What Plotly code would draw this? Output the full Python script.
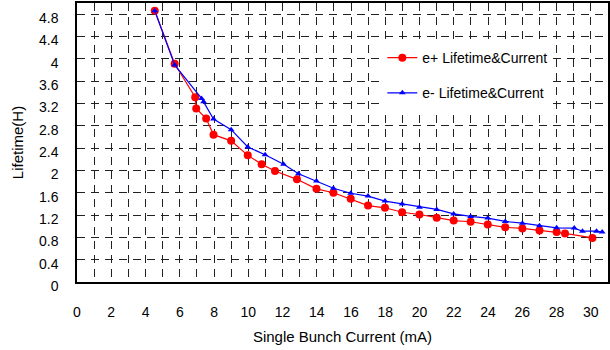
import plotly.graph_objects as go

# e+ lifetime vs single bunch current
ep_current = [4.54, 5.70, 6.90, 6.96, 7.54, 7.97, 9.0, 9.97, 10.78, 11.56, 12.84, 13.98,
              14.97, 15.98, 16.99, 17.98, 18.98, 19.99, 21.0, 21.99, 22.98, 23.98,
              25.0, 26.0, 27.0, 28.0, 28.49, 30.09]
ep_lifetime = [4.86, 3.91, 3.31, 3.11, 2.93, 2.64, 2.53, 2.27, 2.11, 1.99, 1.84, 1.67,
               1.60, 1.49, 1.37, 1.33, 1.25, 1.21, 1.15, 1.10, 1.08, 1.03,
               0.98, 0.96, 0.925, 0.895, 0.87, 0.79]

# e- lifetime vs single bunch current
em_current = [4.54, 5.70, 7.27, 7.39, 7.97, 9.0, 9.97, 10.98, 12.06, 12.93, 13.98, 14.97,
              15.98, 16.99, 17.98, 18.98, 19.99, 21.0, 21.99, 22.98, 23.98, 25.0,
              26.0, 27.0, 28.0, 29.03, 29.51, 30.33, 30.66]
em_lifetime = [4.86, 3.89, 3.29, 3.23, 2.92, 2.73, 2.42, 2.28, 2.11, 1.94, 1.81, 1.68,
               1.59, 1.54, 1.45, 1.40, 1.34, 1.30, 1.22, 1.175, 1.145, 1.085,
               1.055, 1.01, 0.97, 0.966, 0.91, 0.91, 0.895]

x_tickvals = list(range(0, 32))
x_ticktext = [str(v) if v % 2 == 0 and v <= 30 else "" for v in x_tickvals]
y_tickvals = [0, 0.4, 0.8, 1.2, 1.6, 2.0, 2.4, 2.8, 3.2, 3.6, 4.0, 4.4, 4.8]
y_ticktext = ["0", "0.4", "0.8", "1.2", "1.6", "2", "2.4", "2.8", "3.2", "3.6", "4", "4.4", "4.8"]

FONT = "Liberation Sans, Arial, sans-serif"

fig = go.Figure()
fig.add_trace(go.Scatter(
    x=ep_current, y=ep_lifetime, mode="lines+markers",
    name="e+ Lifetime&Current", legendgroup="ep",
    line=dict(color="#ff0000", width=1.2),
    marker=dict(symbol="circle", size=8, color="#ff0000"),
))
fig.add_trace(go.Scatter(
    x=em_current, y=em_lifetime, mode="lines+markers",
    name="e- Lifetime&Current", legendgroup="em",
    line=dict(color="#0000ff", width=1.2),
    marker=dict(symbol="triangle-up", size=6, color="#0000ff"),
))

grid = dict(showgrid=True, gridcolor="#222222", gridwidth=1, griddash="8px,6px",
            showline=True, linecolor="black", linewidth=1.5, mirror=True,
            zeroline=False, ticks="", tickfont=dict(family=FONT, size=14, color="black"))

fig.update_xaxes(range=[0, 31], tickmode="array", tickvals=x_tickvals, ticktext=x_ticktext,
                 ticklabelstandoff=16,
                 title=dict(text="Single Bunch Current (mA)", font=dict(family=FONT, size=15, color="black"),
                            standoff=13),
                 **grid)
fig.update_yaxes(range=[0, 5], tickmode="array", tickvals=y_tickvals, ticktext=y_ticktext,
                 ticklabelstandoff=14, ticklabelshift=4,
                 title=dict(text="Lifetime(H)", font=dict(family=FONT, size=15, color="black"),
                            standoff=12),
                 **grid)

fig.update_layout(
    width=610, height=350,
    margin=dict(l=77, r=0, t=3, b=68),
    plot_bgcolor="white", paper_bgcolor="white",
    font=dict(family=FONT, size=14, color="black"),
    showlegend=True,
    legend=dict(x=0.575, y=0.86, xanchor="left", yanchor="top",
                bgcolor="white", borderwidth=0, tracegroupgap=14,
                font=dict(family=FONT, size=14, color="black")),
)

fig.write_html("out.html")
